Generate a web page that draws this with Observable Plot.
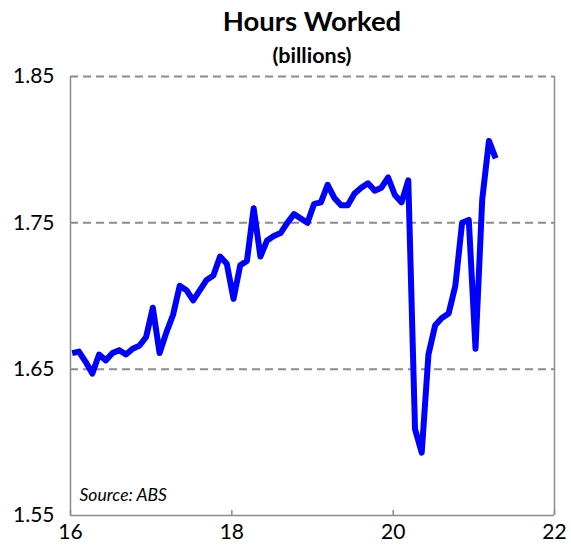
<!DOCTYPE html>
<html><head><meta charset="utf-8">
<script src="https://cdn.jsdelivr.net/npm/d3@7"></script>
<script src="https://cdn.jsdelivr.net/npm/@observablehq/plot@0.6"></script>
<style>
body{margin:0;background:#fff;}
#wrap{position:relative;width:571px;height:552px;font-family:Lato,"Open Sans",sans-serif;color:#000;}
#title{position:absolute;left:22px;width:580px;top:4px;text-align:center;font-weight:bold;font-size:27.5px;line-height:34px;}
#sub{position:absolute;left:22px;width:580px;top:42px;text-align:center;font-weight:bold;font-size:21.5px;line-height:26px;}
#chart{position:absolute;left:0;top:0;}
</style></head>
<body>
<div id="wrap">
  <div id="chart"></div>
  <div id="title">Hours Worked</div>
  <div id="sub">(billions)</div>
</div>
<script>
// Monthly hours worked (billions), Jan 2016 .. Apr 2021
const startYear = 16;
const hours = [
  1.661, 1.662, 1.655, 1.647, 1.660, 1.656, 1.661, 1.663, 1.660, 1.664, 1.666, 1.672,
  1.692, 1.661, 1.675, 1.687, 1.707, 1.704, 1.697, 1.704, 1.711, 1.714, 1.727, 1.722,
  1.698, 1.721, 1.724, 1.760, 1.727, 1.738, 1.741, 1.743, 1.750, 1.756, 1.753, 1.750,
  1.763, 1.764, 1.776, 1.767, 1.762, 1.762, 1.770, 1.774, 1.777, 1.772, 1.774, 1.781,
  1.769, 1.764, 1.779, 1.609, 1.593, 1.660, 1.680, 1.685, 1.688, 1.707, 1.750, 1.752,
  1.664, 1.766, 1.806, 1.794
];
const yTicks = [1.55, 1.65, 1.75, 1.85];
const gridValues = [1.65, 1.75, 1.85];
const xTicks = [16, 18, 20, 22];
const xDomain = [16, 22];
const yDomain = [1.55, 1.85];
const sourceNote = ["Source: ABS"];

const series = hours.map((v, i) => ({x: startYear + (i + 0.25) / 12, y: v}));

const chart = Plot.plot({
  width: 571,
  height: 552,
  marginLeft: 70,
  marginRight: 17,
  marginTop: 76,
  marginBottom: 37,
  style: {fontFamily: "Lato, 'Open Sans', sans-serif", background: "transparent", overflow: "visible"},
  x: {domain: xDomain, label: null},
  y: {domain: yDomain, label: null},
  marks: [
    Plot.ruleY(gridValues, {stroke: "#8c8c8c", strokeWidth: 2, strokeDasharray: "8,5"}),
    Plot.ruleX(xDomain, {stroke: "#8c8c8c", strokeWidth: 1.5}),
    Plot.ruleY([yDomain[0]], {stroke: "#8c8c8c", strokeWidth: 1.5}),
    Plot.axisX({ticks: xTicks, tickSize: -5, tickFormat: () => "", stroke: "#8c8c8c", strokeWidth: 1.5, label: null}),
    Plot.axisX({ticks: xTicks, tickSize: 0, tickPadding: 9, fontSize: 21, fill: "#000", label: null, tickFormat: d => String(d)}),
    Plot.axisY({ticks: yTicks, tickSize: 0, tickPadding: 16, fontSize: 21, fill: "#000", label: null, tickFormat: d => d.toFixed(2)}),
    Plot.line(series, {x: "x", y: "y", stroke: "#0000ff", strokeWidth: 6, strokeLinejoin: "round", strokeLinecap: "butt"}),
    Plot.text(sourceNote, {frameAnchor: "bottom-left", dx: 9, dy: -15, fontSize: 17.5, fontStyle: "italic", fill: "#000", textAnchor: "start"})
  ]
});
document.getElementById("chart").appendChild(chart);
</script>
</body></html>
